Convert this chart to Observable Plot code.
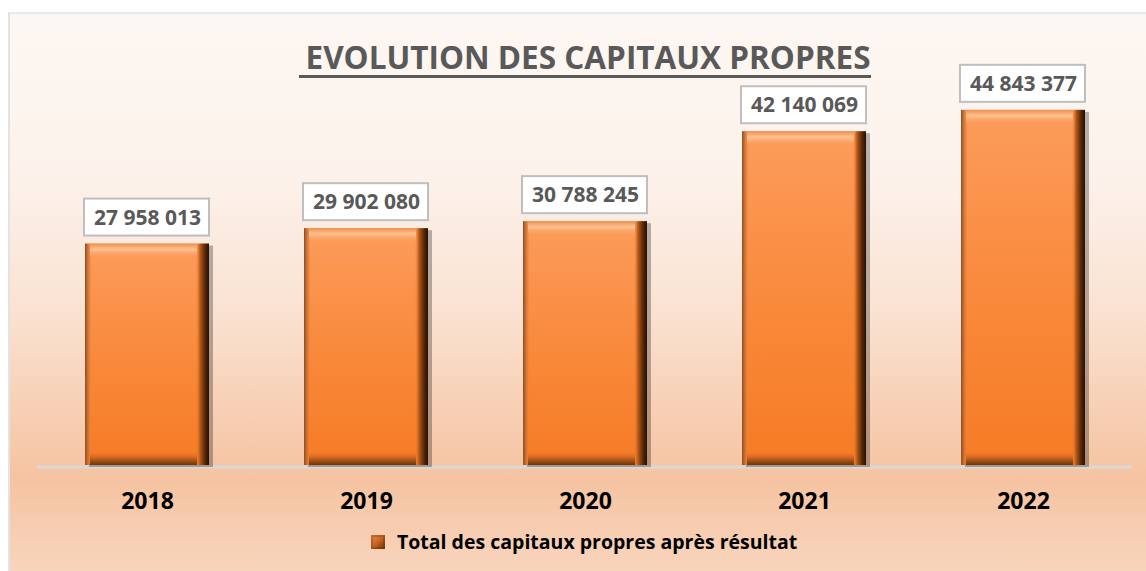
<!DOCTYPE html>
<html>
<head>
<meta charset="utf-8">
<script src="https://cdn.jsdelivr.net/npm/d3@7"></script>
<script src="https://cdn.jsdelivr.net/npm/@observablehq/plot@0.6"></script>
<style>
  html, body { margin: 0; padding: 0; background: #ffffff; width: 1146px; height: 571px; overflow: hidden; }
  #frame {
    position: absolute; left: 8px; top: 12px; width: 1150px; height: 570px;
    border-left: 2px solid #e3e3e3; border-top: 2px solid #e9e9e9; box-sizing: border-box;
    background: linear-gradient(to bottom, #fdf7f3 0%, #fcf2eb 28%, #fae2d2 52%, #f7cfb4 70%, #f5c3a1 82%, #f7ccb0 90%, #f8d7c0 100%);
  }
  #chart { position: absolute; left: 0; top: 0; }
  #title {
    position: absolute; left: 0; top: 35px; width: 1170px; text-align: center;
    font-family: "Open Sans", sans-serif; font-weight: bold; font-size: 31.5px; color: #595959;
  }
  #title span { border-bottom: 3px solid #595959; padding-left: 6px; line-height: 37px; display: inline-block; }
  #legend {
    position: absolute; left: 371px; top: 528px; display: flex; align-items: center;
    font-family: "Open Sans", sans-serif; font-weight: bold; font-size: 19.5px; color: #000;
  }
  #legend .sw { width: 14px; height: 14px; margin-right: 12px;
    background: linear-gradient(135deg, #e8915a 0%, #c8631f 50%, #6a3008 100%); box-shadow: inset 0 0 0 2px rgba(120,50,10,0.35); }
</style>
</head>
<body>
<div id="frame"></div>
<div id="chart"></div>
<div id="title"><span>EVOLUTION DES CAPITAUX PROPRES</span></div>
<div id="legend"><div class="sw"></div><div id="legtext"></div></div>
<script>
const years = ["2018", "2019", "2020", "2021", "2022"];
const values = [27958013, 29902080, 30788245, 42140069, 44843377];
const seriesName = "Total des capitaux propres après résultat";

const data = years.map((y, i) => ({year: y, value: values[i]}));
const fmt = v => d3.format(",")(v).replace(/,/g, " ");

document.getElementById("legtext").textContent = seriesName;

const common = {x: "year"};
const chart = Plot.plot({
  width: 1146,
  height: 571,
  marginLeft: 37,
  marginRight: 14,
  marginTop: 69,
  marginBottom: 106,
  style: {background: "transparent", fontFamily: "'Open Sans', sans-serif", overflow: "visible"},
  x: {domain: years, paddingInner: 0.434, paddingOuter: 0.217, label: null},
  y: {domain: [0, 50000000], axis: null},
  marks: [
    Plot.ruleY([0], {stroke: "#d9d9d9", strokeWidth: 3, dy: 1.5}),
    // shadow
    Plot.barY(data, {...common, y: "value", fill: "#000", fillOpacity: 0.28, dx: 4, dy: 2, ariaLabel: "shadow"}),
    // body
    Plot.barY(data, {...common, y: "value", fill: "url(#gBody)"}),
    // left edge
    Plot.barY(data, {...common, y: "value", insetRight: 118, fill: "url(#gLeft)"}),
    // right edge
    Plot.barY(data, {...common, y: "value", insetLeft: 111, fill: "url(#gRight)"}),
    // top bevel
    Plot.barY(data, {...common, y1: "value", y2: "value", insetBottom: -13, insetLeft: 5, insetRight: 12, fill: "url(#gTop)"}),
    // bottom bevel
    Plot.barY(data, {...common, y1: 0, y2: 0, insetTop: -13, insetLeft: 5, insetRight: 12, fill: "url(#gBottom)"}),
    // label boxes
    Plot.barY(data, {...common, y1: "value", y2: "value", insetTop: -45, insetBottom: 8, insetLeft: -1, insetRight: 0, fill: "#ffffff", stroke: "#bfbfbf", strokeWidth: 2}),
    Plot.text(data, {...common, y: "value", text: d => fmt(d.value), dy: -26, fontSize: 21, fontWeight: "bold", fill: "#595959"}),
    Plot.axisX({tickSize: 0, tickPadding: 27, fontSize: 23, fontWeight: "bold", fill: "#000", label: null})
  ]
});

const svg = d3.select(chart);
svg.insert("defs", ":first-child").html(`
  <linearGradient id="gBody" x1="0" y1="0" x2="0" y2="1">
    <stop offset="0" stop-color="#fc9c5c"/>
    <stop offset="0.5" stop-color="#f98a3c"/>
    <stop offset="1" stop-color="#f67b24"/>
  </linearGradient>
  <linearGradient id="gLeft" x1="0" y1="0" x2="1" y2="0">
    <stop offset="0" stop-color="#8c4c22"/>
    <stop offset="1" stop-color="#f08a44" stop-opacity="0.5"/>
  </linearGradient>
  <linearGradient id="gRight" x1="0" y1="0" x2="1" y2="0">
    <stop offset="0" stop-color="#f07e2e" stop-opacity="0.0"/>
    <stop offset="0.3" stop-color="#b85a18"/>
    <stop offset="0.7" stop-color="#552708"/>
    <stop offset="1" stop-color="#261004"/>
  </linearGradient>
  <linearGradient id="gTop" x1="0" y1="0" x2="0" y2="1">
    <stop offset="0" stop-color="#f08e50"/>
    <stop offset="0.45" stop-color="#ffc290"/>
    <stop offset="1" stop-color="#fb9d5e" stop-opacity="0.3"/>
  </linearGradient>
  <linearGradient id="gBottom" x1="0" y1="0" x2="0" y2="1">
    <stop offset="0" stop-color="#ef7a28" stop-opacity="0.2"/>
    <stop offset="0.5" stop-color="#c0601c"/>
    <stop offset="1" stop-color="#703408"/>
  </linearGradient>
`);
svg.select('g[aria-label="shadow"]').style("filter", "blur(3px)");

document.getElementById("chart").appendChild(chart);
</script>
</body>
</html>
